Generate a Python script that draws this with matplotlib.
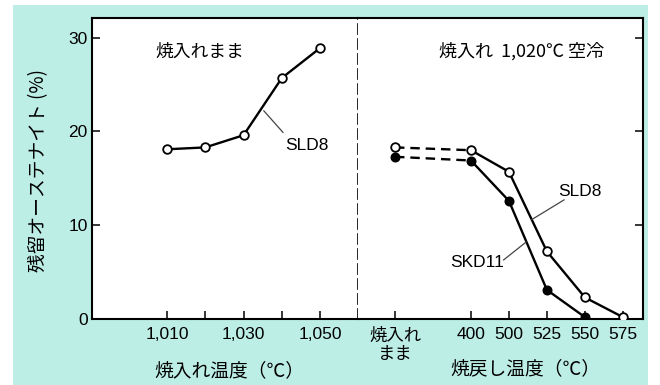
import matplotlib
matplotlib.use("Agg")
import matplotlib.pyplot as plt
from matplotlib.patches import Rectangle

plt.rcParams['font.family'] = ['Liberation Sans', 'Noto Sans CJK JP', 'DejaVu Sans']
JP = ['Noto Sans CJK JP', 'DejaVu Sans']

# --- data -------------------------------------------------------------
quench_temp = [1010, 1020, 1030, 1040, 1050]
sld8_as_quenched = [18.1, 18.3, 19.6, 25.7, 28.9]

temper_labels = ['焼入れ\nまま', '400', '500', '525', '550', '575']
temper_pos = [0, 2, 3, 4, 5, 6]
sld8_temper = [18.3, 18.0, 15.7, 7.2, 2.3, 0.2]
skd11_temper = [17.3, 16.9, 12.6, 3.1, 0.2]

y_ticks = [0, 10, 20, 30]

# --- figure -----------------------------------------------------------
W, H = 660, 385
fig = plt.figure(figsize=(6.6, 3.85), dpi=100, facecolor='white')
fig.patches.append(Rectangle((13 / W, 0), (648 - 13) / W, (385 - 5) / H,
                             transform=fig.transFigure, facecolor='#bdeee6',
                             edgecolor='none', zorder=-10))

x0, x_mid, x1 = 92, 358, 643
y_top, y_bot = 18, 319
ax1 = fig.add_axes([x0 / W, (H - y_bot) / H, (x_mid - x0) / W, (y_bot - y_top) / H])
ax2 = fig.add_axes([x_mid / W, (H - y_bot) / H, (x1 - x_mid) / W, (y_bot - y_top) / H])

ymax = 32.1
line_kw = dict(color='black', lw=1.7)
open_kw = dict(marker='o', ms=6.2, mfc='white', mec='black', mew=1.3)
fill_kw = dict(marker='o', ms=6.2, mfc='black', mec='black', mew=1.0)

# left panel: as-quenched
ax1.plot(quench_temp, sld8_as_quenched, **line_kw, **open_kw, zorder=3)
ax1.set_xlim(990.4, 1059.9)
ax1.set_ylim(0, ymax)
ax1.set_xticks(quench_temp)
ax1.set_xticklabels(['1,010', '', '1,030', '', '1,050'])
ax1.set_yticks(y_ticks)
ax1.tick_params(direction='in', length=6, width=1.1, labelsize=12.5, pad=6)
ax1.tick_params(axis='y', pad=3)
for s in ['top', 'left', 'bottom']:
    ax1.spines[s].set_linewidth(1.5)
ax1.spines['right'].set_linestyle((0, (6, 3)))
ax1.spines['right'].set_linewidth(1.2)

ax1.text(1018.6, 28.5, '焼入れまま', family=JP, fontsize=12.8, ha='center', va='center')
ax1.plot([1035.3, 1040.3], [22.2, 19.9], color='#444444', lw=0.9)
ax1.text(1041.0, 18.5, 'SLD8', fontsize=12.5, ha='left', va='center')

# right panel: tempering
ax2.plot(temper_pos[:2], sld8_temper[:2], color='black', lw=1.7, ls=(0, (4, 2.5)), zorder=2)
ax2.plot(temper_pos[:2], skd11_temper[:2], color='black', lw=1.7, ls=(0, (4, 2.5)), zorder=2)
ax2.plot(temper_pos[1:], sld8_temper[1:], **line_kw, zorder=2)
ax2.plot(temper_pos[1:len(skd11_temper)], skd11_temper[1:], **line_kw, zorder=2)
ax2.plot(temper_pos, sld8_temper, ls='none', **open_kw, zorder=4)
ax2.plot(temper_pos[:len(skd11_temper)], skd11_temper, ls='none', **fill_kw, zorder=4)

ax2.set_xlim(-0.974, 6.53)
ax2.set_ylim(0, ymax)
ax2.set_xticks(temper_pos)
ax2.set_xticklabels(temper_labels)
for lab in ax2.get_xticklabels():
    lab.set_family(JP if '焼' in lab.get_text() else ['Liberation Sans'])
    lab.set_linespacing(0.95)
ax2.set_yticks(y_ticks)
ax2.yaxis.tick_right()
ax2.tick_params(direction='in', length=6, width=1.1, labelsize=12.5, pad=6)
ax2.tick_params(axis='y', labelright=False)
ax2.spines['left'].set_visible(False)
for s in ['top', 'right', 'bottom']:
    ax2.spines[s].set_linewidth(1.5)

ax2.text(3.32, 28.5, '焼入れ  1,020℃ 空冷', family=JP, fontsize=13, ha='center', va='center')
ax2.plot([3.6, 4.45], [10.6, 12.7], color='#444444', lw=0.9)
ax2.text(4.3, 13.55, 'SLD8', fontsize=12.5, ha='left', va='center')
ax2.plot([2.86, 3.45], [6.3, 8.2], color='#444444', lw=0.9)
ax2.text(2.86, 6.0, 'SKD11', fontsize=12.5, ha='right', va='center')

# axis titles
fig.text(39 / W, 1 - 171 / H, '残留オーステナイト (%)', family=JP, fontsize=13.5,
         rotation=90, ha='center', va='center')
fig.text(229 / W, 1 - 371 / H, '焼入れ温度（℃）', family=JP, fontsize=13.5,
         ha='center', va='center')
fig.text(525 / W, 1 - 369 / H, '焼戻し温度（℃）', family=JP, fontsize=13.5,
         ha='center', va='center')

fig.savefig('out.png', dpi=100, facecolor='white')
